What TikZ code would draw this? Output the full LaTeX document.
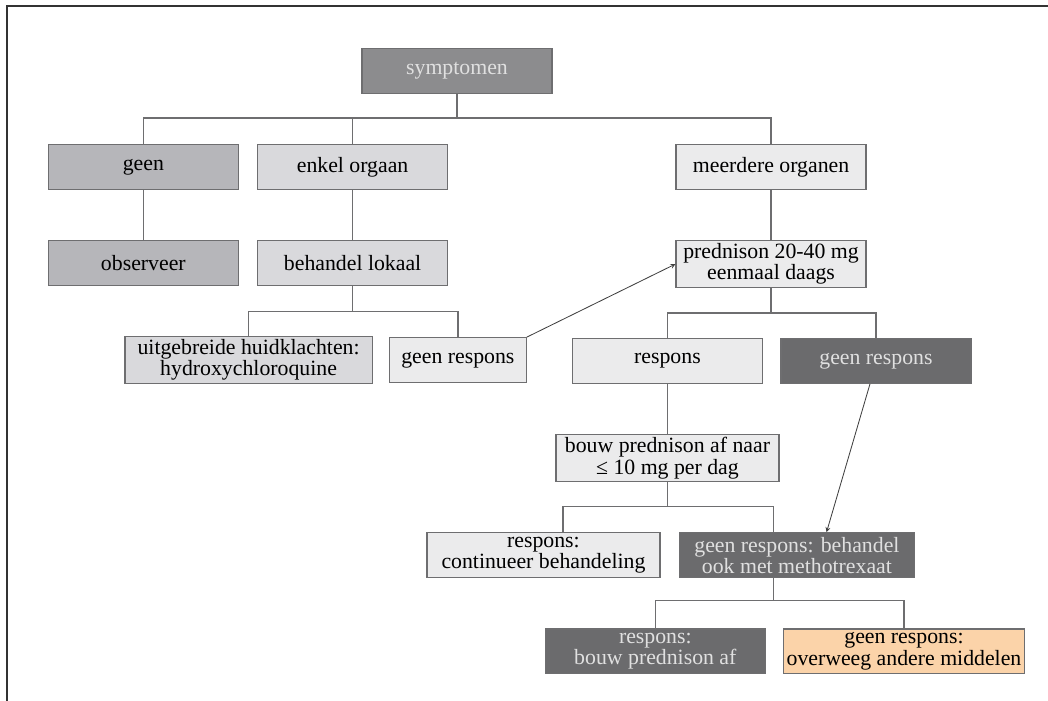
\documentclass[tikz,border=0pt]{standalone}
\usepackage{fontspec}
\setmainfont{Liberation Serif}
\usepackage{xcolor}
\usetikzlibrary{arrows,positioning}

\definecolor{darkgrey}{HTML}{6B6B6D}
\definecolor{symgrey}{HTML}{8C8C8E}
\definecolor{midgrey}{HTML}{B6B6BA}
\definecolor{lightgrey}{HTML}{D9D9DC}
\definecolor{palegrey}{HTML}{EBEBEC}
\definecolor{peach}{HTML}{FBD3A9}
\definecolor{linegrey}{HTML}{6E6E70}

\begin{document}
\begin{tikzpicture}[
    node distance=1.25cm and 0.45cm,
    block/.style={rectangle, draw=linegrey, line width=0.9pt, fill=palegrey, minimum width=4.75cm, minimum height=1.12cm, inner sep=2pt, align=center, font=\fontsize{15.5}{13}\selectfont},
    darkblock/.style={block, fill=darkgrey, text=white!88!black},
    link/.style={draw=linegrey, line width=0.9pt},
    arrow/.style={->, >=stealth, line width=0.6pt, draw=black!75}
]

\useasboundingbox (0,0) rectangle (26.2,-17.525);
\draw[line width=1.2pt, black!80] (0.175,-17.525) -- (0.175,-0.15) -- (26.2,-0.15);

% Top
\node[darkblock, fill=symgrey] (sym) at (11.425,-1.775) {symptomen};

% Organs
\node[block, fill=lightgrey, below=of sym, xshift=-2.61cm] (enkel) {enkel orgaan};
\node[block, fill=midgrey, left=of enkel] (geen) {geen};
\node[block, right=5.68cm of enkel] (meer) {meerdere organen};

% First treatment
\node[block, fill=midgrey, below=of geen] (obs) {observeer};
\node[block, fill=lightgrey, below=of enkel] (lokaal) {behandel lokaal};
\node[block, below=of meer] (pred) {prednison 20-40 mg\\eenmaal daags};

% Response
\node[block, fill=lightgrey, minimum width=6.18cm, below=of lokaal, xshift=-2.6cm] (uitg) {uitgebreide huidklachten:\\hydroxychloroquine};
\node[block, minimum width=3.42cm, right=0.4cm of uitg] (geenr1) {geen respons};
\node[block, below=of pred, xshift=-2.59cm] (resp) {respons};
\node[darkblock, right=0.43cm of resp] (geenr2) {geen respons};

% Taper
\node[block, minimum width=5.58cm, below=of resp] (bouw) {bouw prednison af naar\\≤ 10 mg per dag};
\node[block, minimum width=5.83cm, below=of bouw, xshift=-3.1cm] (cont) {respons:\\continueer behandeling};
\node[darkblock, minimum width=5.88cm, right=of cont] (mtx) {geen respons: behandel\\ook met methotrexaat};

% Methotrexate
\node[darkblock, minimum width=5.5cm, below=of mtx, xshift=-3.54cm] (respaf) {respons:\\bouw prednison af};
\node[block, fill=peach, minimum width=6cm, right=0.43cm of respaf] (overw) {geen respons:\\overweeg andere middelen};

% Connectors
\draw[link] (sym.south) -- ++(0,-0.6cm) -| (geen.north);
\draw[link] (sym.south) -- ++(0,-0.6cm) -| (enkel.north);
\draw[link] (sym.south) -- ++(0,-0.6cm) -| (meer.north);
\draw[link] (geen) -- (obs);
\draw[link] (enkel) -- (lokaal);
\draw[link] (meer) -- (pred);
\draw[link] (lokaal.south) -- ++(0,-0.625cm) -| (uitg.north);
\draw[link] (lokaal.south) -- ++(0,-0.625cm) -| (geenr1.north);
\draw[link] (pred.south) -- ++(0,-0.625cm) -| (resp.north);
\draw[link] (pred.south) -- ++(0,-0.625cm) -| (geenr2.north);
\draw[link] (resp) -- (bouw);
\draw[link] (bouw.south) -- ++(0,-0.6cm) -| ([xshift=0.49cm]cont.north);
\draw[link] (bouw.south) -- ++(0,-0.6cm) -| ([xshift=-0.59cm]mtx.north);
\draw[link] ([xshift=-0.59cm]mtx.south) -- ++(0,-0.55cm) -| (respaf.north);
\draw[link] ([xshift=-0.59cm]mtx.south) -- ++(0,-0.55cm) -| (overw.north);

% Arrows
\draw[arrow] (geenr1.north east) -- (pred.west);
\draw[arrow] ([xshift=-0.15cm]geenr2.south) -- ([xshift=0.74cm]mtx.north);

\end{tikzpicture}
\end{document}
